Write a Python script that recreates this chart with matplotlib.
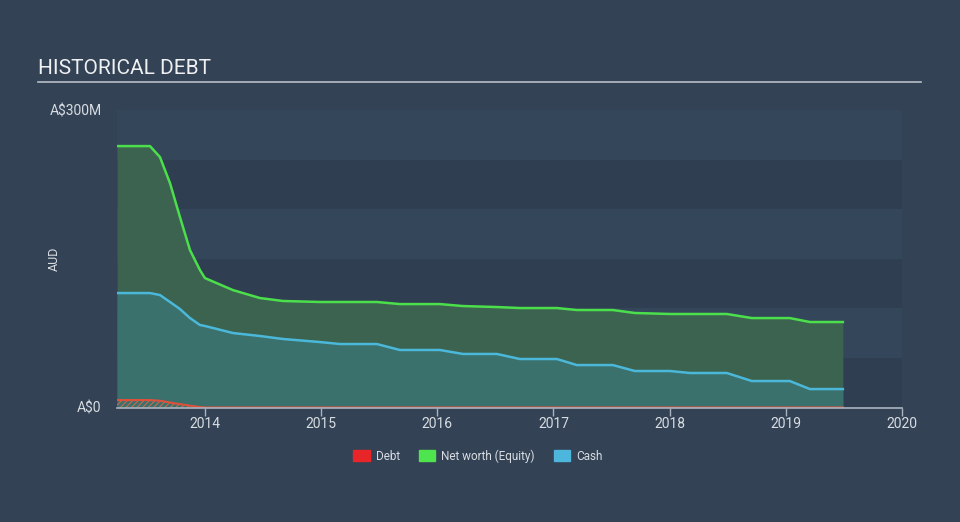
import matplotlib
matplotlib.use("Agg")
import matplotlib.pyplot as plt
from matplotlib.patches import Patch

plt.rcParams['font.family'] = ['Roboto', 'DejaVu Sans']
plt.rcParams['hatch.linewidth'] = 0.8

title = "HISTORICAL DEBT"
y_label = "AUD"
x_ticks = [2014, 2015, 2016, 2017, 2018, 2019, 2020]
y_ticks = [0, 300]
y_tick_labels = ["A$0", "A$300M"]
legend_labels = ["Debt", "Net worth (Equity)", "Cash"]

dates = [2013.243, 2013.527, 2013.613, 2013.699, 2013.785, 2013.871, 2013.957, 2014.0,
         2014.241, 2014.473, 2014.671, 2014.990, 2015.163, 2015.480, 2015.678, 2016.022,
         2016.220, 2016.513, 2016.711, 2017.029, 2017.201, 2017.511, 2017.700, 2018.002,
         2018.174, 2018.492, 2018.707, 2019.034, 2019.207, 2019.491]
equity = [263.6, 263.6, 252.5, 226.3, 192.0, 158.8, 138.6, 130.5,
          118.4, 110.4, 107.4, 106.4, 106.4, 106.4, 104.3, 104.3,
          102.3, 101.3, 100.3, 100.3, 98.3, 98.3, 95.3, 94.3,
          94.3, 94.3, 90.2, 90.2, 86.2, 86.2]
cash = [115.4, 115.4, 113.4, 106.4, 99.3, 90.2, 83.2, 82.2,
        75.1, 72.1, 69.1, 66.0, 64.0, 64.0, 58.0, 58.0,
        54.0, 54.0, 48.9, 48.9, 42.8, 42.8, 36.8, 36.8,
        34.8, 34.8, 26.7, 26.7, 18.6, 18.6]
debt = [7.5, 7.5, 6.8, 5.0, 3.4, 1.8, 0.5, 0.0,
        0, 0, 0, 0, 0, 0, 0, 0,
        0, 0, 0, 0, 0, 0, 0, 0,
        0, 0, 0, 0, 0, 0]

BG = '#334254'
BAND_LIGHT = '#34465a'
BAND_DARK = '#2f3e50'
EQ_LINE = '#4cdf4c'
EQ_FILL = '#3b6350'
CASH_LINE = '#4bb8da'
CASH_FILL = '#3a716c'
DEBT_LINE = '#e0503a'
TEXT = '#d8dde3'

fig = plt.figure(figsize=(9.6, 5.22), dpi=100, facecolor=BG)
ax = fig.add_axes([117/960, 1-407.5/522, (902-117)/960, (407.5-110)/522])
ax.set_facecolor(BG)
ax.set_xlim(2013.243, 2020.0)
ax.set_ylim(0, 300)

for i in range(6):
    ax.axhspan(i*50, (i+1)*50, color=BAND_DARK if i % 2 == 0 else BAND_LIGHT, lw=0, zorder=0)

ax.fill_between(dates, 0, equity, color=EQ_FILL, lw=0, zorder=1)
ax.fill_between(dates, 0, cash, color=CASH_FILL, lw=0, zorder=2)
ax.fill_between(dates, 0, debt, facecolor='none', edgecolor='#c86a50', hatch='//////', lw=0, zorder=3)
ax.plot(dates, equity, color=EQ_LINE, lw=1.8, zorder=4)
ax.plot(dates, cash, color=CASH_LINE, lw=1.8, zorder=4)
ax.plot(dates, debt, color=DEBT_LINE, lw=1.5, zorder=5)

for s in ['top', 'right', 'left']:
    ax.spines[s].set_visible(False)
ax.spines['bottom'].set_color('#aab4c0')
ax.spines['bottom'].set_linewidth(1.2)
ax.spines['bottom'].set_zorder(6)

ax.set_xticks(x_ticks)
ax.set_xticklabels([str(t) for t in x_ticks])
ax.tick_params(axis='x', colors='#aab4c0', length=6, width=1, labelcolor=TEXT, labelsize=10, pad=1)
ax.set_yticks(y_ticks)
ax.set_yticklabels(y_tick_labels)
ax.tick_params(axis='y', length=0, labelcolor=TEXT, labelsize=10, pad=11)
ax.set_ylabel(y_label, color=TEXT, fontsize=9)
ax.yaxis.set_label_coords(-0.072, 0.5)

fig.text(38/960, 1-68/522, title, color='#eef0f2', fontsize=15, va='center', ha='left')
fig.add_artist(plt.Line2D([38/960, 921/960], [1-82/522, 1-82/522], color='#b8bec6', lw=1.2))

handles = [Patch(color='#e8262a'), Patch(color='#4ee44e'), Patch(color='#4cb6dc')]
fig.legend(handles, legend_labels, loc='center', bbox_to_anchor=(478/960, 1-456/522), ncol=3,
           frameon=False, fontsize=8.5, labelcolor=TEXT, handlelength=1.4, handleheight=1.0,
           columnspacing=1.6, handletextpad=0.5)

fig.savefig('out.png', dpi=100, facecolor=BG)
